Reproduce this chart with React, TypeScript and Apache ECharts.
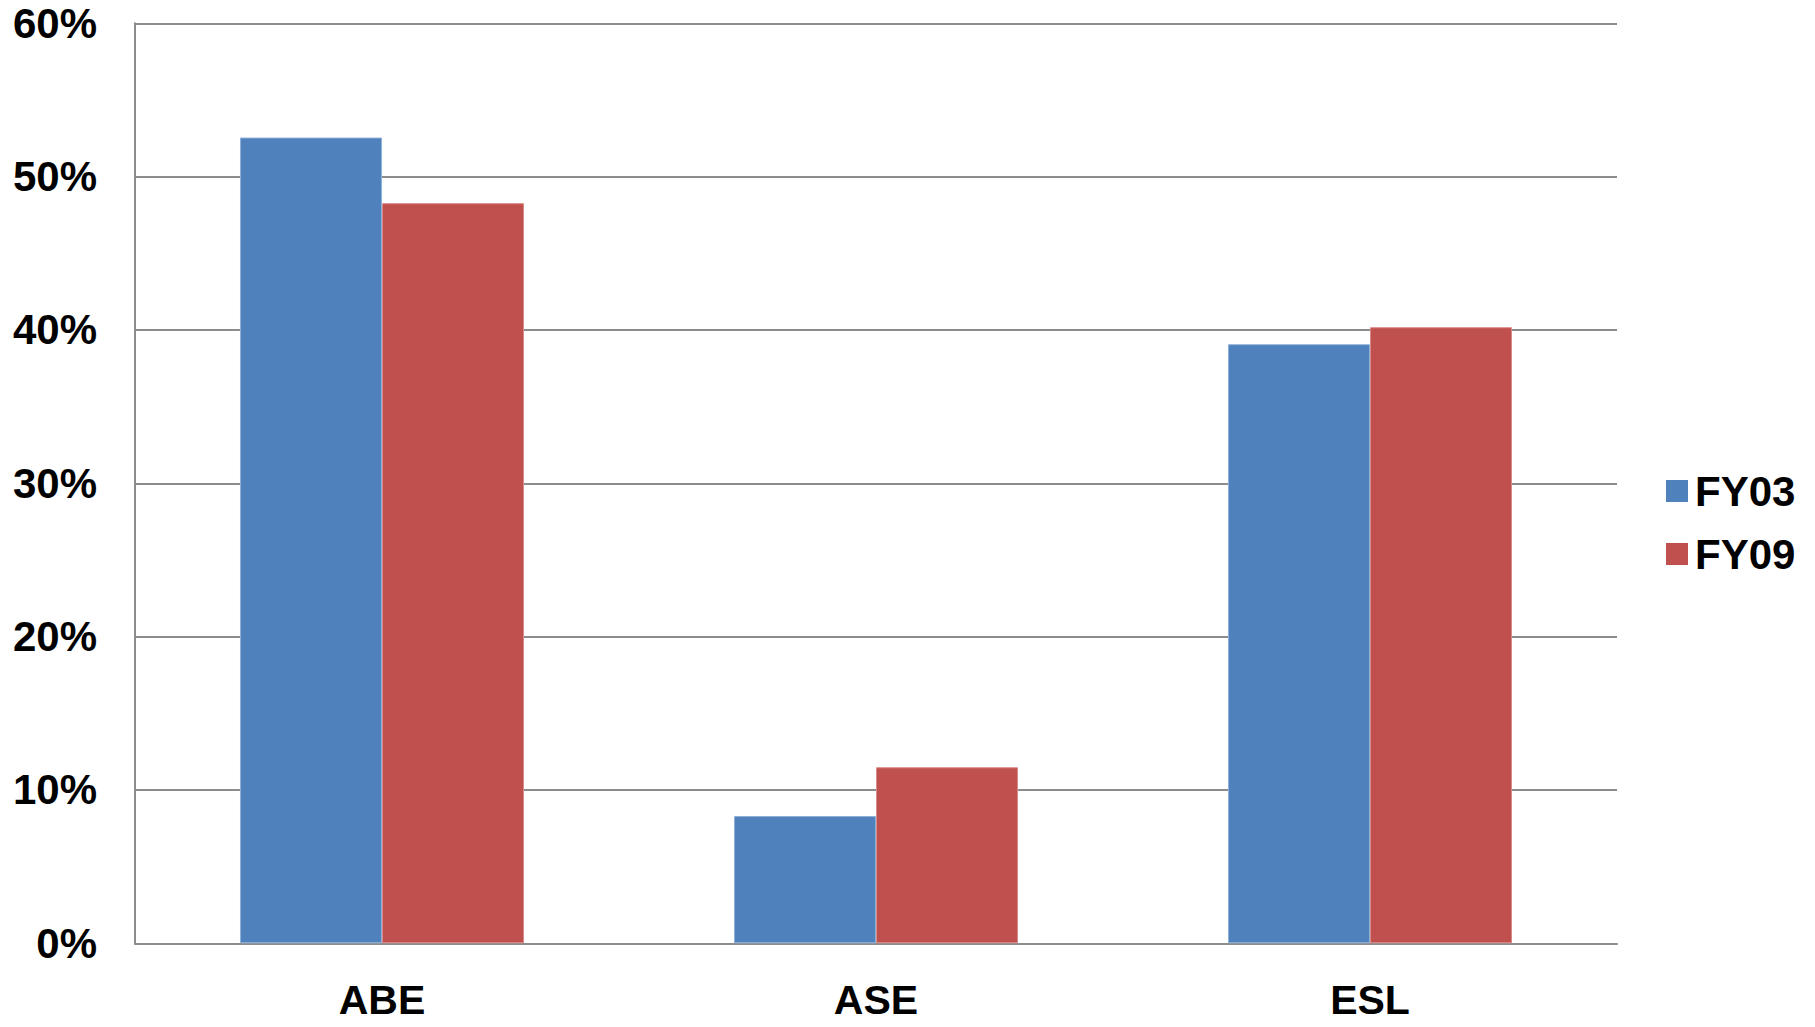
import React, { useEffect, useRef } from "react";
import * as echarts from "echarts";

const categories = ["ABE", "ASE", "ESL"];
const fy03 = [52.55, 8.3, 39.07];
const fy09 = [48.27, 11.48, 40.18];
const seriesNames = ["FY03", "FY09"];
const yTicksMax = 60;
const yTickStep = 10;

const FONT = "'Liberation Sans', Arial, sans-serif";

export default function App() {
  const ref = useRef<HTMLDivElement>(null);
  useEffect(() => {
    document.body.style.margin = "0";
    const chart = echarts.init(ref.current!, null, { renderer: "svg" });
    chart.setOption({
      animation: false,
      backgroundColor: "#ffffff",
      grid: { left: 135, right: 198, top: 23.3, bottom: 83.7, containLabel: false },
      legend: {
        orient: "vertical",
        left: 1661,
        top: 465,
        icon: "rect",
        itemWidth: 22,
        itemHeight: 22,
        itemGap: 21,
        data: seriesNames,
        itemStyle: { borderWidth: 0 },
        textStyle: { fontFamily: FONT, fontSize: 42, fontWeight: "bold", color: "#000", padding: [0, 0, 0, 2] },
      },
      xAxis: {
        type: "category",
        data: categories,
        axisLine: { show: true, lineStyle: { color: "#8c8c8c", width: 2 } },
        axisTick: { show: false },
        axisLabel: {
          fontFamily: FONT,
          fontSize: 41,
          lineHeight: 34,
          fontWeight: "bold",
          color: "#000",
          margin: 40,
        },
      },
      yAxis: {
        type: "value",
        min: 0,
        max: yTicksMax,
        interval: yTickStep,
        axisLine: { show: true, lineStyle: { color: "#8c8c8c", width: 2 } },
        axisTick: { show: false },
        splitLine: { show: true, lineStyle: { color: "#8c8c8c", width: 2 } },
        axisLabel: {
          fontFamily: FONT,
          fontSize: 42,
          fontWeight: "bold",
          color: "#000",
          margin: 38,
          formatter: "{value}%",
        },
      },
      series: [
        {
          name: seriesNames[0],
          type: "bar",
          data: fy03,
          barGap: "0%",
          barCategoryGap: "42.5%",
          itemStyle: { color: "#4F81BD", borderColor: "#8fb0d8", borderWidth: 1 },
        },
        {
          name: seriesNames[1],
          type: "bar",
          data: fy09,
          barGap: "0%",
          barCategoryGap: "42.5%",
          itemStyle: { color: "#C0504D", borderColor: "#d88a88", borderWidth: 1 },
        },
      ],
    });
    return () => chart.dispose();
  }, []);
  return (
    <div
      ref={ref}
      style={{ position: "absolute", left: 0, top: 0, width: 1815, height: 1027 }}
    />
  );
}
